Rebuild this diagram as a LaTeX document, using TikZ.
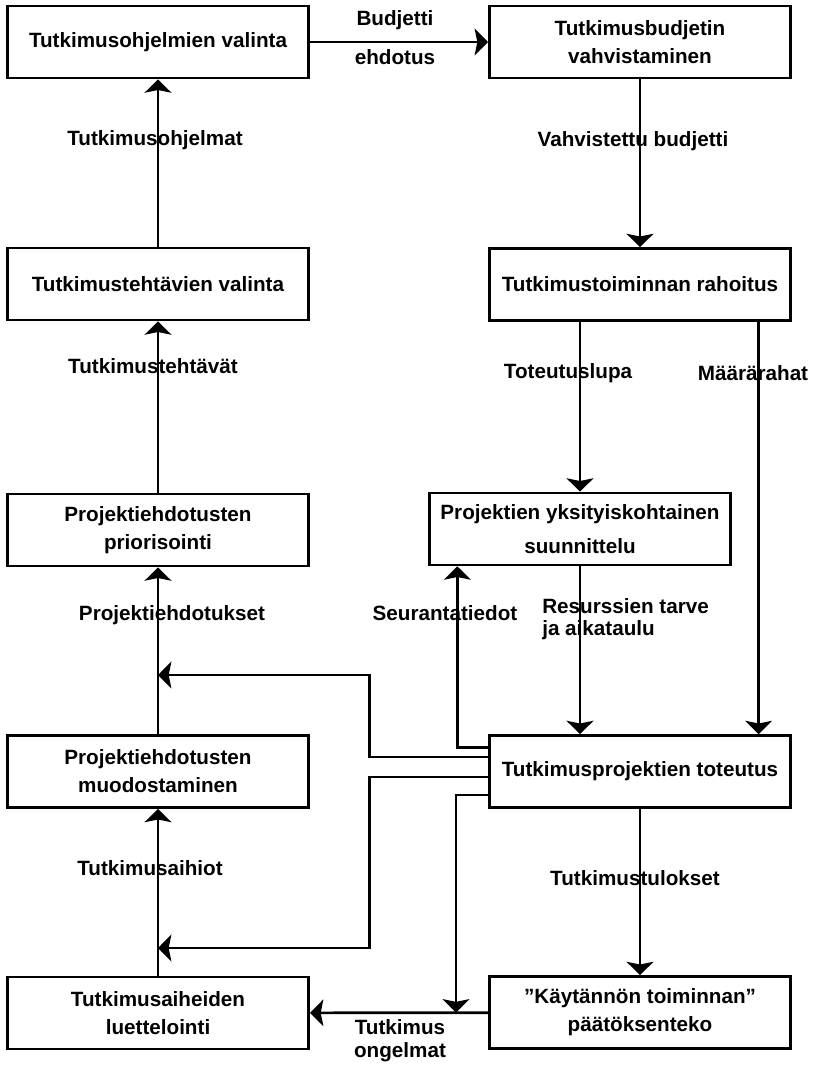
\documentclass[tikz,border=0pt]{standalone}
\usepackage{fontspec}
\setmainfont{Liberation Sans}
\usetikzlibrary{arrows.meta,positioning}
\tikzset{
  box/.style={draw,line width=2pt,minimum width=226pt,minimum height=54pt,
    align=center,inner sep=2pt,font=\fontsize{15.5}{21}\selectfont\bfseries},
  lbl/.style={inner sep=0pt,font=\fontsize{15.5}{17}\selectfont\bfseries},
  flow/.style={line width=2pt,-{Stealth[length=10pt,width=20pt,inset=2pt]}}
}

\begin{document}
\begin{tikzpicture}[x=0.75pt,y=-0.75pt]
  \useasboundingbox (0,0) rectangle (817,1065);
  % left column
  \node[box] (ohj) at (158,42) {Tutkimusohjelmien valinta};
  \node[box] (teht) at (158,284) {Tutkimustehtävien valinta};
  \node[box] (prior) at (158,530) {Projektiehdotusten\\priorisointi};
  \node[box] (muod) at (158,771.5) {Projektiehdotusten\\muodostaminen};
  \node[box] (luet) at (158,1013) {Tutkimusaiheiden\\luettelointi};
  % right column
  \node[box] (vahv) at (640,42) {Tutkimusbudjetin\\vahvistaminen};
  \node[box] (rah) at (640,284.5) {Tutkimustoiminnan rahoitus};
  \node[box] (suun) at (580,529) {Projektien yksityiskohtainen\\[4pt]suunnittelu};
  \node[box] (tot) at (640,771.5) {Tutkimusprojektien toteutus};
  \node[box] (paat) at (640,1012.5) {”Käytännön toiminnan”\\päätöksenteko};
  % points on the left flow line
  \coordinate (pe) at (158,675);
  \coordinate (ta) at (158,948);
  % arrows
  \draw[flow] (ohj) -- (vahv);
  \draw[flow] (vahv) -- (rah);
  \draw[flow] (teht) -- (ohj);
  \draw[flow] (prior) -- (teht);
  \draw[flow] (muod) -- (prior);
  \draw[flow] (luet) -- (muod);
  \draw[flow] (suun |- rah.south) -- (suun);
  \draw[flow] ([xshift=-25pt]rah.south east) -- ([xshift=-25pt]tot.north east);
  \draw[flow] (suun) -- (suun |- tot.north);
  \draw[flow] ([yshift=18pt]tot.west) -| ([xshift=-92pt]suun.south);
  \draw[flow] ([yshift=11pt]tot.west) -- ++(-89pt,0) |- (pe);
  \draw[flow] ([yshift=-4pt]tot.west) -- ++(-89pt,0) |- (ta);
  \draw[flow] ([yshift=-17.6pt]tot.west) -| ([xshift=-24pt]paat.west);
  \draw[flow] (tot) -- (paat);
  \draw[flow] (paat) -- (luet);
  % labels
  \node[lbl] (l-budj) at (395,20) {Budjetti};
  \node[lbl] (l-ehd) at (395,57) {ehdotus};
  \node[lbl] (l-vahv) at (633,141) {Vahvistettu budjetti};
  \node[lbl] (l-ohj) at (155,140) {Tutkimusohjelmat};
  \node[lbl] (l-teht) at (153,366) {Tutkimustehtävät};
  \node[lbl] (l-lupa) at (568,373) {Toteutuslupa};
  \node[lbl] (l-raha) at (753,373) {Määrärahat};
  \node[lbl] (l-ehdot) at (172,615) {Projektiehdotukset};
  \node[lbl] (l-seur) at (445,613) {Seurantatiedot};
  \node[lbl,anchor=west,align=left] (l-res) at (542,619) {Resurssien tarve\\ja aikataulu};
  \node[lbl] (l-aih) at (150,868) {Tutkimusaihiot};
  \node[lbl] (l-tul) at (635,878) {Tutkimustulokset};
  \node[lbl,align=center] (l-ong) at (400,1041) {Tutkimus\\ongelmat};
\end{tikzpicture}
\end{document}
